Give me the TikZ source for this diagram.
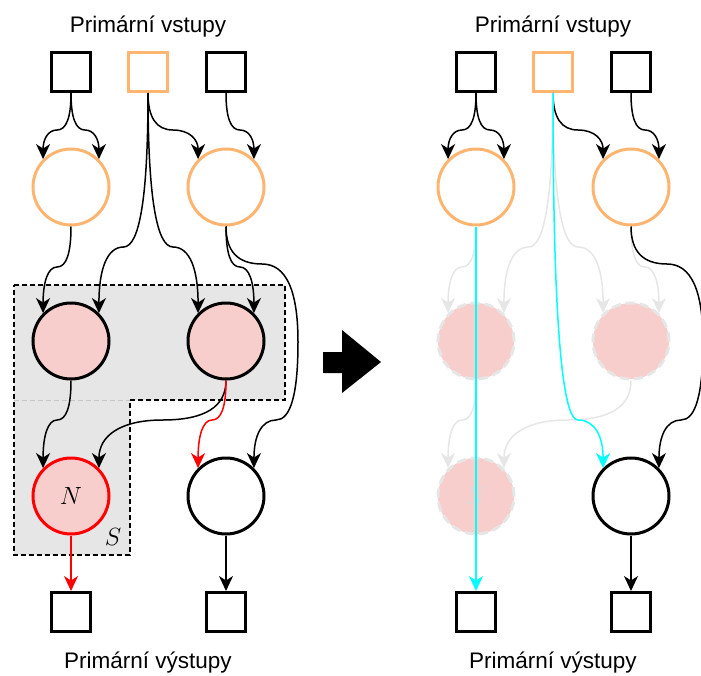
\documentclass[tikz,border=0pt]{standalone}
\usepackage{fontspec}
\setmainfont{Liberation Sans}
\usetikzlibrary{arrows.meta,calc}
\definecolor{inorange}{HTML}{FFB570}
\definecolor{nodepink}{HTML}{F8CECC}
\definecolor{regiongray}{HTML}{E6E6E6}
\definecolor{fadegray}{HTML}{E6E6E6}
\definecolor{fadetext}{HTML}{DADADA}
\definecolor{pathcyan}{HTML}{00FFFF}
\begin{document}
\begin{tikzpicture}[x=1pt,y=-1pt,
  port/.style={draw, line width=3pt, minimum size=39pt, inner sep=0pt, fill=white},
  gate/.style={draw, circle, line width=3pt, minimum size=76pt, inner sep=0pt, fill=white},
  fadedgate/.style={gate, draw=fadegray, fill=nodepink, dash pattern=on 9pt off 5pt},
  edge/.style={line width=1.5pt, -{Stealth[length=15pt,width=14pt,inset=4.5pt]}},
  fadededge/.style={edge, draw=fadegray},
  % smooth down-across-down connector; the argument is the height of the crossing
  qs/.style={to path={let \p1=(\tikztostart), \p2=(\tikztotarget), \p3=(0,#1) in
     .. controls (\x1, {\y1+2/3*(\y3-(\y1))}) and ({5/6*\x1+1/6*\x2}, \y3) .. ({(\x1+\x2)/2}, \y3)
     .. controls ({1/6*\x1+5/6*\x2}, \y3) and (\x2, {\y2+2/3*(\y3-(\y2))}) .. (\tikztotarget)}},
  lbl/.style={font=\fontsize{22.5}{27}\selectfont, anchor=base, inner sep=0pt},
  mathlbl/.style={font=\fontsize{25}{25}\selectfont, inner sep=0pt},
]
\useasboundingbox (0,0) rectangle (701,675);

% ---------- left panel ----------
% subcircuit region S
\fill[regiongray] (14,285) -- (285,285) -- (285,400) -- (130,400) -- (130,555) -- (14,555) -- cycle;
\draw[line width=1.5pt, dash pattern=on 5pt off 3pt] (14,285) -- (285,285) -- (285,400) -- (130,400) -- (130,555) -- (14,555) -- cycle;
\draw[line width=1pt, gray!45, dash pattern=on 5pt off 3pt] (14,400) -- (130,400);

\node[port] (i1) at (71,72) {};
\node[port, draw=inorange] (i2) at (148,72) {};
\node[port] (i3) at (226,72) {};
\node[gate, draw=inorange] (a1) at (71,187) {};
\node[gate, draw=inorange] (a2) at (226,187) {};
\node[gate, fill=nodepink] (b1) at (71,341) {};
\node[gate, fill=nodepink] (b2) at (226,341) {};
\node[gate, fill=nodepink, draw=red, font=\fontsize{25}{25}\selectfont] (c1) at (71,496) {$N$};
\node[gate] (c2) at (226,496) {};
\node[port] (o1) at (71,612) {};
\node[port] (o2) at (226,612) {};
\node[lbl] (tin) at (148,32) {Primární vstupy};
\node[lbl] (tout) at (148,668) {Primární výstupy};
\node[mathlbl] (slbl) at (113,537) {$S$};

\draw[edge] (i1.south) to[qs=130] (a1.135);
\draw[edge] (i1.south) to[qs=130] (a1.45);
\draw[edge] (i2.south) to[qs=130] (a2.135);
\draw[edge] (i3.south) to[qs=130] (a2.45);
\draw[edge] (i2.south) to[qs=247] (b1.45);
\draw[edge] (i2.south) to[qs=247] (b2.135);
\draw[edge] (a1.south) to[qs=267] (b1.135);
\draw[edge] (a2.south) to[qs=267] (b2.45);
\draw[edge] (a2.south) .. controls (226,251.5) and (238,264) .. (262,264)
  .. controls (286,264) and (298,290) .. (298,342)
  .. controls (298,394) and (290.7,420) .. (276,420)
  .. controls (261.3,420) and (254,436) .. (c2.45);
\draw[edge] (b1.south) to[qs=420] (c1.135);
\draw[edge] (b2.south) to[qs=420] (c1.45);
\draw[edge, red] (b2.south) to[qs=420] (c2.135);
\draw[edge, red] (c1.south) -- (o1.north);
\draw[edge] (c2.south) -- (o2.north);

% ---------- transition arrow ----------
\fill (323,352) -- (342,352) -- (342,330) -- (381,362) -- (342,393) -- (342,373) -- (323,373) -- cycle;

% ---------- right panel ----------
\node[port] (ri1) at (476,72) {};
\node[port, draw=inorange] (ri2) at (553,72) {};
\node[port] (ri3) at (631,72) {};
\node[gate, draw=inorange] (ra1) at (476,187) {};
\node[gate, draw=inorange] (ra2) at (631,187) {};
\node[fadedgate] (rb1) at (476,341) {};
\node[fadedgate] (rb2) at (631,341) {};
\node[fadedgate, text=fadetext, font=\fontsize{25}{25}\selectfont] (rc1) at (476,496) {$N$};
\node[gate] (rc2) at (631,496) {};
\node[port] (ro1) at (476,612) {};
\node[port] (ro2) at (631,612) {};
\node[lbl] (rtin) at (553,32) {Primární vstupy};
\node[lbl] (rtout) at (553,668) {Primární výstupy};

\draw[edge] (ri1.south) to[qs=130] (ra1.135);
\draw[edge] (ri1.south) to[qs=130] (ra1.45);
\draw[edge] (ri2.south) to[qs=130] (ra2.135);
\draw[edge] (ri3.south) to[qs=130] (ra2.45);
\draw[fadededge] (ri2.south) to[qs=247] (rb1.45);
\draw[fadededge] (ri2.south) to[qs=247] (rb2.135);
\draw[fadededge] (ra1.south) to[qs=267] (rb1.135);
\draw[fadededge] (ra2.south) to[qs=267] (rb2.45);
\draw[edge] (ra2.south) .. controls (631,251.5) and (643,264) .. (667,264)
  .. controls (691,264) and (703,290) .. (703,342)
  .. controls (703,394) and (695.7,420) .. (681,420)
  .. controls (666.3,420) and (659,436) .. (rc2.45);
\draw[fadededge] (rb1.south) to[qs=420] (rc1.135);
\draw[fadededge] (rb2.south) to[qs=420] (rc1.45);
\draw[edge] (rc2.south) -- (ro2.north);

% highlighted path
\draw[edge, pathcyan] (ra1.south) -- (ro1.north);
\draw[edge, pathcyan] (ri2.south) to[qs=420] (rc2.135);
\end{tikzpicture}
\end{document}
